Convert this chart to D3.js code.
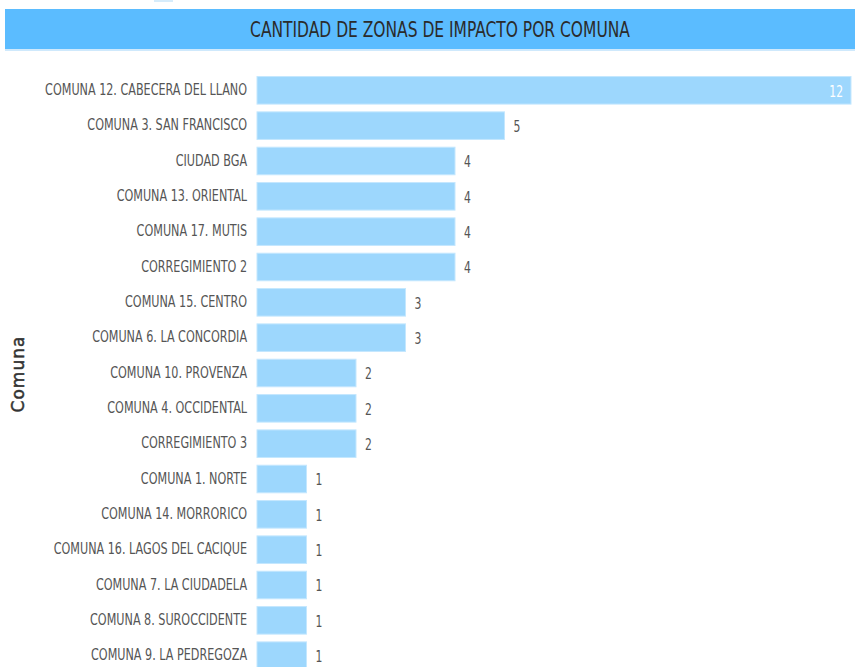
<!DOCTYPE html>
<html>
<head>
<meta charset="utf-8">
<script src="https://cdn.jsdelivr.net/npm/d3@7"></script>
<style>
  body { margin: 0; background: #fff; }
  svg { display: block; }
</style>
</head>
<body>
<svg id="chart" width="855" height="667"></svg>
<script>
// **** Data
const comunas = [
  "COMUNA 12. CABECERA DEL LLANO",
  "COMUNA 3. SAN FRANCISCO",
  "CIUDAD BGA",
  "COMUNA 13. ORIENTAL",
  "COMUNA 17. MUTIS",
  "CORREGIMIENTO 2",
  "COMUNA 15. CENTRO",
  "COMUNA 6. LA CONCORDIA",
  "COMUNA 10. PROVENZA",
  "COMUNA 4. OCCIDENTAL",
  "CORREGIMIENTO 3",
  "COMUNA 1. NORTE",
  "COMUNA 14. MORRORICO",
  "COMUNA 16. LAGOS DEL CACIQUE",
  "COMUNA 7. LA CIUDADELA",
  "COMUNA 8. SUROCCIDENTE",
  "COMUNA 9. LA PEDREGOZA"
];
const zonas = [12, 5, 4, 4, 4, 4, 3, 3, 2, 2, 2, 1, 1, 1, 1, 1, 1];
const titulo = "CANTIDAD DE ZONAS DE IMPACTO POR COMUNA";
const ejeTitulo = "Comuna";

const rows = comunas.map((c, i) => ({ comuna: c, value: zonas[i] }));

const svg = d3.select("#chart");
const condensed = "'DejaVu Sans Condensed', 'Liberation Sans Narrow', sans-serif";

// **** Title banner
svg.append("rect").attr("x", 154).attr("y", 0).attr("width", 19).attr("height", 2).attr("fill", "#d6ecfb");
svg.append("rect")
  .attr("x", 5).attr("y", 9).attr("width", 850).attr("height", 40)
  .attr("fill", "#5bbcff");
svg.append("rect")
  .attr("x", 5).attr("y", 49).attr("width", 850).attr("height", 2)
  .attr("fill", "#cfe9fc");
svg.append("text")
  .attr("transform", "translate(440,37) scale(0.82,1)")
  .attr("text-anchor", "middle")
  .attr("font-family", condensed)
  .attr("font-size", 21)
  .attr("fill", "#2b2b2b")
  .text(titulo);

// **** Scales
const x = d3.scaleLinear().domain([0, 12]).range([257, 851]);
const y = d3.scaleBand()
  .domain(comunas)
  .range([73, 673])
  .paddingInner(0.22)
  .paddingOuter(0.1);

// **** Bars
svg.append("g")
  .selectAll("rect")
  .data(rows)
  .join("rect")
  .attr("x", x(0))
  .attr("y", d => y(d.comuna))
  .attr("width", d => x(d.value) - x(0))
  .attr("height", y.bandwidth())
  .attr("fill", "#9dd7fd")
  .attr("stroke", "#c4e7fe")
  .attr("stroke-width", 1);

// **** Category labels
const yAxis = svg.append("g")
  .attr("transform", `translate(${x(0)},0)`)
  .call(d3.axisLeft(y).tickSize(0).tickPadding(12));
yAxis.select(".domain").remove();
yAxis.selectAll("text")
  .attr("transform", "scale(0.83,1)")
  .attr("font-family", condensed)
  .attr("font-size", 15)
  .attr("fill", "#555");

// **** Value labels
svg.append("g")
  .selectAll("text")
  .data(rows)
  .join("text")
  .attr("transform", d => {
    const tx = d.value === 12 ? x(d.value) - 8 : x(d.value) + 9;
    const ty = y(d.comuna) + y.bandwidth() / 2 + 1;
    return `translate(${tx},${ty}) scale(0.8,1)`;
  })
  .attr("dy", "0.35em")
  .attr("text-anchor", d => d.value === 12 ? "end" : "start")
  .attr("font-family", condensed)
  .attr("font-size", 15)
  .attr("fill", d => d.value === 12 ? "#fff" : "#555")
  .text(d => d.value);

// **** Axis title
svg.append("text")
  .attr("transform", "translate(24,374) rotate(-90)")
  .attr("text-anchor", "middle")
  .attr("font-family", "'DejaVu Sans', sans-serif")
  .attr("font-size", 17)
  .attr("letter-spacing", 1)
  .attr("fill", "#333")
  .attr("stroke", "#333")
  .attr("stroke-width", 0.5)
  .text(ejeTitulo);
</script>
</body>
</html>
